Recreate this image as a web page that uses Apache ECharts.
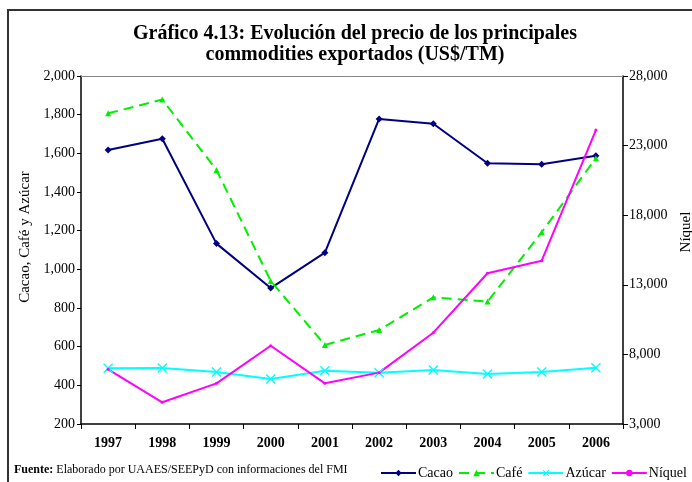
<!DOCTYPE html>
<html>
<head>
<meta charset="utf-8">
<script src="https://cdn.jsdelivr.net/npm/echarts@6/dist/echarts.min.js"></script>
<style>
  html, body { margin: 0; padding: 0; background: #fff; }
  #chart { width: 692px; height: 482px; }
</style>
</head>
<body>
<div id="chart"></div>
<script>
// Years on the category axis
const years = ['1997', '1998', '1999', '2000', '2001', '2002', '2003', '2004', '2005', '2006'];

// Prices in US$/TM (left axis)
const cacao  = [1617, 1675, 1133, 903, 1086, 1778, 1753, 1549, 1544, 1588];
const cafe   = [1807, 1878, 1514, 940, 609, 686, 855, 833, 1192, 1575];
const azucar = [488, 490, 469, 433, 476, 465, 479, 459, 469, 491];

// Nickel price in US$/TM (right axis)
const niquel = [6930, 4560, 5920, 8620, 5920, 6690, 9560, 13830, 14730, 24120];

// Tick ranges
const leftTicks  = { min: 200, max: 2000, step: 200 };
const rightTicks = { min: 3000, max: 28000, step: 5000 };

const serif = '"Liberation Serif", "Times New Roman", serif';
const fmt = v => v.toLocaleString('en-US');

// Small "x" marker drawn as a filled outline
const crossSymbol = 'path://M0,1L1,0L5,4L9,0L10,1L6,5L10,9L9,10L5,6L1,10L0,9L4,5Z';

const chart = echarts.init(document.getElementById('chart'), null, { renderer: 'canvas' });

chart.setOption({
  animation: false,
  backgroundColor: '#ffffff',
  textStyle: { fontFamily: serif },
  title: [
    {
      text: 'Gráfico 4.13: Evolución del precio de los principales\ncommodities exportados (US$/TM)',
      left: 350,
      top: 18,
      textAlign: 'center',
      textStyle: { fontFamily: serif, fontSize: 20, fontWeight: 'bold', color: '#000', lineHeight: 21 }
    },
    {
      text: '{b|Fuente:} Elaborado por UAAES/SEEPyD con informaciones del FMI',
      left: 14,
      top: 464,
      padding: 0,
      textStyle: {
        fontFamily: serif, fontSize: 12, fontWeight: 'normal', color: '#000',
        rich: { b: { fontFamily: serif, fontSize: 12, fontWeight: 'bold', color: '#000' } }
      }
    }
  ],
  graphic: [
    {
      type: 'rect',
      shape: { x: 8, y: 10, width: 720, height: 500 },
      style: { fill: 'none', stroke: '#333', lineWidth: 2 },
      silent: true
    }
  ],
  legend: {
    left: 380,
    top: 466,
    itemWidth: 35,
    itemHeight: 8,
    itemGap: 5,
    padding: 0,
    textStyle: { fontFamily: serif, fontSize: 14, color: '#000', padding: [0, 0, 0, -3] },
    data: ['Cacao', 'Café', 'Azúcar', 'Níquel']
  },
  grid: { left: 81, right: 69, top: 76, bottom: 58, containLabel: false, outerBoundsMode: 'none' },
  xAxis: [
    {
      type: 'category',
      data: years,
      boundaryGap: true,
      axisLine: { lineStyle: { color: '#000', width: 1.5 } },
      axisTick: { show: true, length: 5, lineStyle: { color: '#000' } },
      axisLabel: { fontFamily: serif, fontSize: 14, fontWeight: 'bold', color: '#000', margin: 12 }
    },
    {
      type: 'category',
      data: years,
      position: 'top',
      axisLine: { lineStyle: { color: '#888', width: 1 } },
      axisTick: { show: false },
      axisLabel: { show: false }
    }
  ],
  yAxis: [
    {
      type: 'value',
      min: leftTicks.min,
      max: leftTicks.max,
      interval: leftTicks.step,
      position: 'left',
      name: 'Cacao, Café y Azúcar',
      nameLocation: 'middle',
      nameGap: 48,
      nameTextStyle: { fontFamily: serif, fontSize: 15, color: '#000', padding: [0, 0, 0, 26] },
      axisLine: { show: true, lineStyle: { color: '#000', width: 1.5 } },
      axisTick: { show: true, length: 4, lineStyle: { color: '#000' } },
      splitLine: { show: false },
      axisLabel: { fontFamily: serif, fontSize: 14, color: '#000', margin: 6, formatter: fmt }
    },
    {
      type: 'value',
      min: rightTicks.min,
      max: rightTicks.max,
      interval: rightTicks.step,
      position: 'right',
      name: 'Níquel',
      nameLocation: 'middle',
      nameGap: 42,
      nameTextStyle: { fontFamily: serif, fontSize: 15, color: '#000', padding: [0, 0, 0, 36] },
      axisLine: { show: true, lineStyle: { color: '#000', width: 1.5 } },
      axisTick: { show: true, length: 5, lineStyle: { color: '#000' } },
      splitLine: { show: false },
      axisLabel: { fontFamily: serif, fontSize: 14, color: '#000', margin: 6, formatter: fmt }
    }
  ],
  series: [
    {
      name: 'Cacao',
      type: 'line',
      data: cacao,
      yAxisIndex: 0,
      symbol: 'diamond',
      symbolSize: 7,
      color: '#000080',
      lineStyle: { width: 2, color: '#000080' },
      itemStyle: { color: '#000080' }
    },
    {
      name: 'Café',
      type: 'line',
      data: cafe,
      yAxisIndex: 0,
      symbol: 'triangle',
      symbolSize: 6,
      color: '#00ee00',
      lineStyle: { width: 2, type: [10, 6], color: '#00ee00' },
      itemStyle: { color: '#00ee00' }
    },
    {
      name: 'Azúcar',
      type: 'line',
      data: azucar,
      yAxisIndex: 0,
      symbol: crossSymbol,
      symbolSize: 10,
      color: '#00ffff',
      lineStyle: { width: 2, color: '#00ffff' },
      itemStyle: { color: '#00ffff' }
    },
    {
      name: 'Níquel',
      type: 'line',
      data: niquel,
      yAxisIndex: 1,
      symbol: 'circle',
      symbolSize: 3,
      color: '#ff00ff',
      lineStyle: { width: 2, color: '#ff00ff' },
      itemStyle: { color: '#ff00ff' }
    }
  ]
});
</script>
</body>
</html>
